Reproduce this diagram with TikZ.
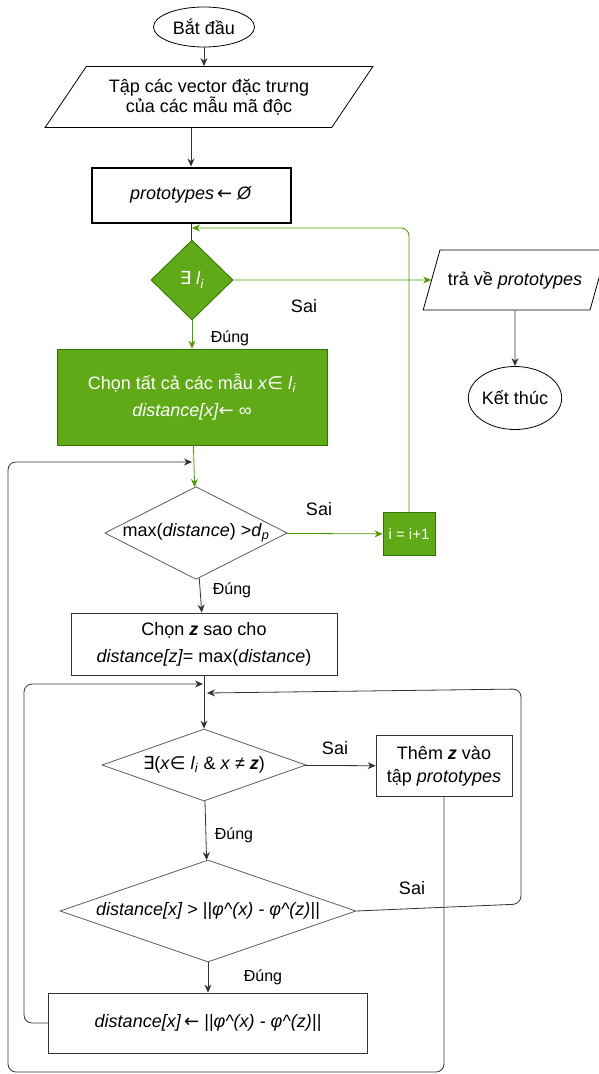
\documentclass[tikz,border=0pt]{standalone}
\usepackage{fontspec}
\setmainfont{Liberation Sans}
\newfontfamily\symf{DejaVu Sans}
\usetikzlibrary{shapes.geometric,arrows.meta}
\definecolor{leaf}{HTML}{60A917}
\definecolor{leafdark}{HTML}{2D7600}
\definecolor{leafline}{HTML}{4D9900}
\definecolor{ink}{HTML}{333333}
\newcommand{\exi}{{\symf ∃}}
\newcommand{\elem}{{\symf ∈}}
\newcommand{\lto}{{\symf ←}}
\begin{document}
\begin{tikzpicture}[x=1pt, y=-1pt, >={Stealth[length=8pt,width=7pt]},
  line width=0.8pt, font=\fontsize{18}{22}\selectfont,
  term/.style={draw=black, ellipse, inner sep=0pt},
  io/.style={draw=black, trapezium, trapezium stretches=true, inner sep=0pt, align=center},
  proc/.style={draw=ink, rectangle, inner sep=2pt, align=center},
  greenproc/.style={proc, draw=leafdark, fill=leaf, text=white},
  test/.style={draw=ink!80, diamond, inner sep=0pt},
  greentest/.style={test, draw=leafdark, fill=leaf, text=white},
  flow/.style={->, ink},
  gflow/.style={->, leafline},
  small/.style={font=\fontsize{16}{19}\selectfont}]
  \useasboundingbox (0,0) rectangle (599,1074);
  % main column
  \node[term, minimum width=101, minimum height=40] (start) at (204,27) {Bắt đầu};
  \node[io, trapezium left angle=47, trapezium right angle=133,
        minimum width=328, minimum height=61, font=\fontsize{18}{20}\selectfont]
        (input) at (209,97) {Tập các vector đặc trưng\\của các mẫu mã độc};
  \node[proc, draw=black, line width=2pt, minimum width=199, minimum height=55]
        (init) at (191,195) {\textit{prototypes}\,\lto\ \textit{Ø}};
  \node[greentest, aspect=1.03, minimum width=82, minimum height=80] (hasl) at (192,280)
        {\exi\ \textit{l}\textsubscript{\textit{i}}};
  \node[greenproc, minimum width=270, minimum height=96, font=\fontsize{18}{27}\selectfont]
        (pick) at (192,397)
        {Chọn tất cả các mẫu \textit{x}\elem\ \textit{l}\textsubscript{\textit{i}}\\\textit{distance[x]}\lto\ ∞};
  \node[test, aspect=1.97, minimum width=173, minimum height=88] (maxd) at (196,533)
        {max(\textit{distance}) >\textit{d}\textsubscript{\textit{p}}};
  \node[proc, minimum width=266, minimum height=62, font=\fontsize{18}{27}\selectfont]
        (choose) at (204,644)
        {Chọn \textbf{\textit{z}} sao cho\\\textit{distance[z]}= max(\textit{distance})};
  \node[test, aspect=2.83, minimum width=204, minimum height=72] (anyx) at (204,765)
        {\exi(\textit{x}\elem\ \textit{l}\textsubscript{\textit{i}} \& \textit{x} ≠ \textbf{\textit{z}})};
  \node[test, aspect=2.9, minimum width=296, minimum height=102] (cmp) at (208,911)
        {\textit{distance[x] > ||φ\textasciicircum(x) - φ\textasciicircum(z)||}};
  \node[proc, minimum width=319, minimum height=60] (upd) at (208,1023)
        {\textit{distance[x]}\,\lto\ \textit{||φ\textasciicircum(x) - φ\textasciicircum(z)||}};
  % right column
  \node[io, trapezium left angle=58, trapezium right angle=122, inner xsep=-18pt,
        minimum width=184, minimum height=60] (retn) at (515,280) {trả về \textit{prototypes}};
  \node[term, minimum width=88, minimum height=63] (stop) at (515,398) {Kết thúc};
  \node[greenproc, minimum width=52, minimum height=43, font=\fontsize{15}{18}\selectfont]
        (inc) at (409,534) {i = i+1};
  \node[proc, minimum width=136, minimum height=61, font=\fontsize{18}{23}\selectfont]
        (addz) at (444,766) {Thêm \textbf{\textit{z}} vào\\tập \textit{prototypes}};
  % loop joints
  \coordinate (topin) at (192,228);
  \coordinate (loopin) at (192,462);
  \coordinate (innerin) at (203,684);
  \coordinate (backin) at (207,693);
  \coordinate (outerbl) at (8,1072);
  \coordinate (innerl) at (24,1023);
  \coordinate (backr) at (521,904);
  \coordinate (backtop) at (521,689);
  % connectors
  \draw[flow] (start.south) -- (start.south |- input.north);
  \draw[flow] (init.north |- input.south) -- (init.north);
  \draw[ink] (init.south) -- (init.south |- hasl.north);
  \draw[gflow, rounded corners=8] (inc.north) |- (topin);
  \draw[gflow] (hasl) -- (retn);
  \draw[gflow] (hasl) -- (pick);
  \draw[flow] (retn) -- (stop);
  \draw[gflow] (pick) -- (maxd);
  \draw[gflow] (maxd) -- (inc);
  \draw[flow] (maxd) -- (choose);
  \draw[flow] (choose) -- (anyx);
  \draw[flow] (anyx) -- (addz);
  \draw[flow] (anyx) -- (cmp);
  \draw[flow] (cmp) -- (upd);
  \draw[flow, rounded corners=8] (addz.south) |- (outerbl) |- (loopin);
  \draw[flow, rounded corners=8] (cmp.east) -- (backr) -- (backtop) -- (backin);
  \draw[flow, rounded corners=8] (upd.west) -- (innerl) |- (innerin);
  % branch labels
  \node (nohasl) at (304,306) {Sai};
  \node[small] (yeshasl) at (230,338) {Đúng};
  \node (nomax) at (319,509) {Sai};
  \node[small] (yesmax) at (232,590) {Đúng};
  \node (noany) at (335,748) {Sai};
  \node[small] (yesany) at (234,835) {Đúng};
  \node (nocmp) at (412,888) {Sai};
  \node[small] (yescmp) at (263,977) {Đúng};
\end{tikzpicture}
\end{document}
